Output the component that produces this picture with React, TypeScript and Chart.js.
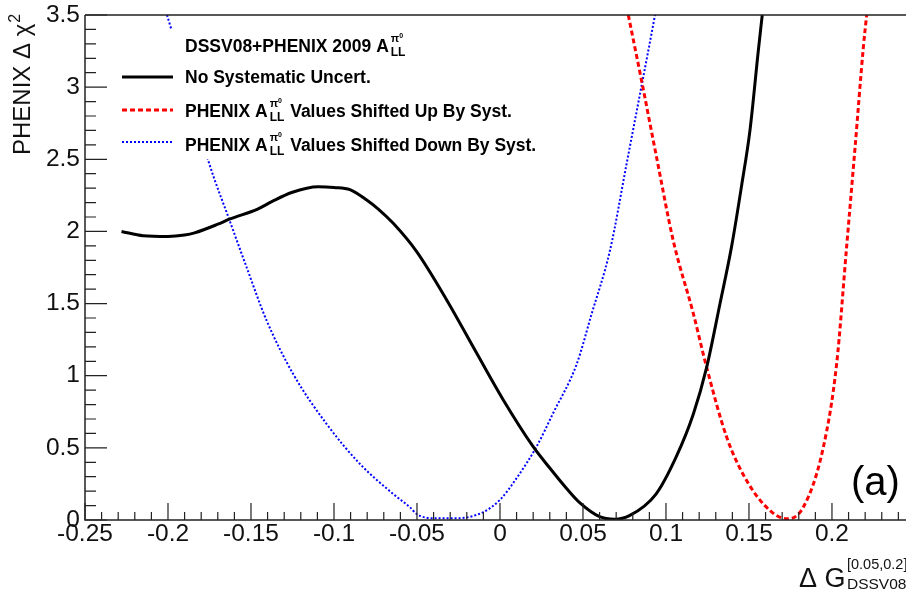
import React, { useEffect, useRef } from "react";
import { Chart, registerables } from "chart.js";

Chart.register(...registerables);

// ---- data ----
const blackX = [-0.228, -0.215, -0.2, -0.19, -0.184, -0.17, -0.163, -0.146, -0.1375, -0.1255, -0.1095, -0.1, -0.0904, -0.0803, -0.0733, -0.0643, -0.0502, -0.0321, -0.014, 0.002, 0.02, 0.03, 0.04, 0.048, 0.06, 0.069, 0.078, 0.094, 0.106, 0.1165, 0.1245, 0.1325, 0.1396, 0.1456, 0.1506, 0.1556, 0.158];
const blackY = [2.0, 1.97, 1.965, 1.975, 1.99, 2.05, 2.085, 2.155, 2.206, 2.27, 2.31, 2.305, 2.29, 2.218, 2.155, 2.056, 1.86, 1.525, 1.155, 0.832, 0.508, 0.36, 0.22, 0.12, 0.023, 0.005, 0.03, 0.18, 0.434, 0.735, 1.058, 1.497, 1.9, 2.32, 2.7, 3.25, 3.5];

const redX = [0.0773, 0.0853, 0.0944, 0.1044, 0.1165, 0.1245, 0.1366, 0.1486, 0.1627, 0.1727, 0.1827, 0.1948, 0.2028, 0.2088, 0.2139, 0.2189, 0.2209];
const redY = [3.5, 3.045, 2.51, 1.935, 1.43, 1.058, 0.573, 0.273, 0.065, 0.008, 0.088, 0.504, 1.08, 1.89, 2.58, 3.276, 3.5];

const blueX = [-0.2006, -0.198, -0.19, -0.18, -0.1757, -0.1627, -0.1526, -0.1405, -0.1245, -0.1044, -0.0843, -0.0643, -0.0542, -0.05, -0.04, -0.026, -0.01, 0.0, 0.01, 0.022, 0.032, 0.0462, 0.055, 0.0663, 0.0763, 0.0843, 0.0893, 0.0934];
const blueY = [3.5, 3.4, 3.05, 2.67, 2.49, 2.07, 1.75, 1.38, 1.01, 0.665, 0.388, 0.18, 0.088, 0.04, 0.012, 0.012, 0.055, 0.14, 0.29, 0.508, 0.74, 1.08, 1.42, 1.87, 2.47, 2.95, 3.25, 3.5];

const seriesLabels = [
  "No Systematic Uncert.",
  "Values Shifted Up By Syst.",
  "Values Shifted Down By Syst.",
];
const legendHeader = "DSSV08+PHENIX 2009 A";

const X_MIN = -0.25;
const X_MAX = 0.2446;
const Y_MIN = 0;
const Y_MAX = 3.5;

const FONT = '"Liberation Sans", Arial, Helvetica, sans-serif';

const zip = (xs: number[], ys: number[]) => xs.map((x, i) => ({ x, y: ys[i] }));

function drawPiLL(ctx: CanvasRenderingContext2D, x: number, baseline: number) {
  ctx.font = `bold 11px ${FONT}`;
  ctx.fillText("π", x, baseline - 10);
  const pw = ctx.measureText("π").width;
  ctx.font = `bold 7px ${FONT}`;
  ctx.fillText("0", x + pw, baseline - 14);
  ctx.font = `bold 12px ${FONT}`;
  ctx.fillText("LL", x, baseline + 4);
  return Math.max(ctx.measureText("LL").width, pw + 4);
}

const rootPlugin = {
  id: "rootStyle",
  afterDraw(chart: any) {
    const ctx: CanvasRenderingContext2D = chart.ctx;
    const { left, right, top, bottom } = chart.chartArea;
    const xs = chart.scales.x;
    const ys = chart.scales.y;
    ctx.save();

    // ---- legend (white box hides curves) ----
    ctx.fillStyle = "#ffffff";
    ctx.fillRect(112, 30, 440, 129);
    ctx.fillStyle = "#000";
    ctx.textBaseline = "alphabetic";
    ctx.textAlign = "left";
    ctx.font = `bold 17.5px ${FONT}`;
    ctx.fillText(legendHeader, 185, 52);
    const w = ctx.measureText(legendHeader).width;
    drawPiLL(ctx, 185 + w + 2, 52);

    const rows = [
      { y: 77, base: 83, color: "#000", dash: [] as number[], lw: 3 },
      { y: 110, base: 117, color: "#ff0000", dash: [5, 3], lw: 3 },
      { y: 142, base: 151, color: "#0000ff", dash: [2, 2], lw: 2 },
    ];
    rows.forEach((r, i) => {
      ctx.strokeStyle = r.color;
      ctx.lineWidth = r.lw;
      ctx.setLineDash(r.dash);
      ctx.beginPath();
      ctx.moveTo(122, r.y);
      ctx.lineTo(173, r.y);
      ctx.stroke();
      ctx.setLineDash([]);
      ctx.fillStyle = "#000";
      ctx.font = `bold 17.5px ${FONT}`;
      if (i === 0) {
        ctx.fillText(seriesLabels[0], 185, r.base);
      } else {
        ctx.fillText("PHENIX A", 185, r.base);
        const aw = ctx.measureText("PHENIX A").width;
        const sw = drawPiLL(ctx, 185 + aw + 2, r.base);
        ctx.font = `bold 17.5px ${FONT}`;
        ctx.fillText(" " + seriesLabels[i], 185 + aw + 2 + sw + 1, r.base);
      }
    });

    // ---- frame ----
    ctx.strokeStyle = "#222";
    ctx.lineWidth = 1.5;
    ctx.beginPath();
    ctx.moveTo(left, top);
    ctx.lineTo(right, top);
    ctx.moveTo(left, top);
    ctx.lineTo(left, bottom);
    ctx.lineTo(right, bottom);
    ctx.stroke();

    // ---- inner ticks ----
    ctx.lineWidth = 1.2;
    ctx.beginPath();
    for (let k = 0; ; k++) {
      const v = X_MIN + k * 0.01;
      if (v > X_MAX + 1e-9) break;
      const px = xs.getPixelForValue(v);
      const len = k % 5 === 0 ? 17 : 8;
      ctx.moveTo(px, bottom);
      ctx.lineTo(px, bottom - len);
    }
    for (let k = 0; ; k++) {
      const v = Y_MIN + k * 0.1;
      if (v > Y_MAX + 1e-9) break;
      const py = ys.getPixelForValue(v);
      const len = k % 5 === 0 ? 22 : 11;
      ctx.moveTo(left, py);
      ctx.lineTo(left + len, py);
    }
    ctx.stroke();

    // ---- (a) ----
    ctx.fillStyle = "#000";
    ctx.font = `40px ${FONT}`;
    ctx.textAlign = "left";
    ctx.fillText("(a)", 851, 495);

    // ---- y title ----
    ctx.save();
    ctx.translate(30, 155);
    ctx.rotate(-Math.PI / 2);
    ctx.font = `24px ${FONT}`;
    ctx.fillStyle = "#111";
    const yt = "PHENIX Δ χ";
    ctx.fillText(yt, 0, 0);
    const ytw = ctx.measureText(yt).width;
    ctx.font = `16px ${FONT}`;
    ctx.fillText("2", ytw + 1, -10);
    ctx.restore();

    // ---- x title ----
    ctx.fillStyle = "#111";
    ctx.font = `27px ${FONT}`;
    ctx.fillText("Δ G", 799, 587);
    ctx.font = `14.5px ${FONT}`;
    ctx.fillText("[0.05,0.2]", 847, 569);
    ctx.font = `15.5px ${FONT}`;
    ctx.fillText("DSSV08", 847, 589);

    ctx.restore();
  },
};

export default function App() {
  const ref = useRef<HTMLCanvasElement | null>(null);
  useEffect(() => {
    if (!ref.current) return;
    const fmt = (v: number | string) => String(Math.round(Number(v) * 100) / 100);
    const chart = new Chart(ref.current, {
      type: "scatter",
      data: {
        datasets: [
          {
            label: seriesLabels[0],
            data: zip(blackX, blackY),
            showLine: true,
            borderColor: "#000",
            borderWidth: 3,
            pointRadius: 0,
            cubicInterpolationMode: "monotone",
          },
          {
            label: seriesLabels[1],
            data: zip(redX, redY),
            showLine: true,
            borderColor: "#ff0000",
            borderWidth: 3,
            borderDash: [5, 3],
            pointRadius: 0,
            cubicInterpolationMode: "monotone",
          },
          {
            label: seriesLabels[2],
            data: zip(blueX, blueY),
            showLine: true,
            borderColor: "#0000ff",
            borderWidth: 2,
            borderDash: [2, 2],
            pointRadius: 0,
            cubicInterpolationMode: "monotone",
          },
        ],
      },
      options: {
        responsive: false,
        maintainAspectRatio: false,
        animation: false,
        devicePixelRatio: 1,
        layout: { padding: { top: 15, right: 0, left: 0, bottom: 0 } },
        plugins: { legend: { display: false }, tooltip: { enabled: false } },
        scales: {
          x: {
            type: "linear",
            min: X_MIN,
            max: X_MAX,
            grid: { display: false, drawTicks: false },
            border: { display: false },
            ticks: {
              stepSize: 0.05,
              includeBounds: false,
              autoSkip: false,
              maxRotation: 0,
              padding: 0,
              color: "#111",
              font: { family: FONT, size: 24.5 },
              callback: fmt,
            },
            afterFit: (s: any) => {
              s.height = 70;
              s.paddingLeft = 0;
              s.paddingRight = 0;
            },
          },
          y: {
            type: "linear",
            min: Y_MIN,
            max: Y_MAX,
            grid: { display: false, drawTicks: false },
            border: { display: false },
            ticks: {
              stepSize: 0.5,
              includeBounds: false,
              padding: 5,
              color: "#111",
              font: { family: FONT, size: 24.5 },
              callback: fmt,
            },
            afterFit: (s: any) => {
              s.width = 85;
              s.paddingTop = 0;
              s.paddingBottom = 0;
            },
          },
        },
      },
      plugins: [rootPlugin],
    } as any);
    return () => chart.destroy();
  }, []);
  return (
    <div style={{ position: "fixed", left: 0, top: 0, width: 906, height: 590, background: "#fff" }}>
      <canvas ref={ref} width={906} height={590} style={{ display: "block" }} />
    </div>
  );
}
